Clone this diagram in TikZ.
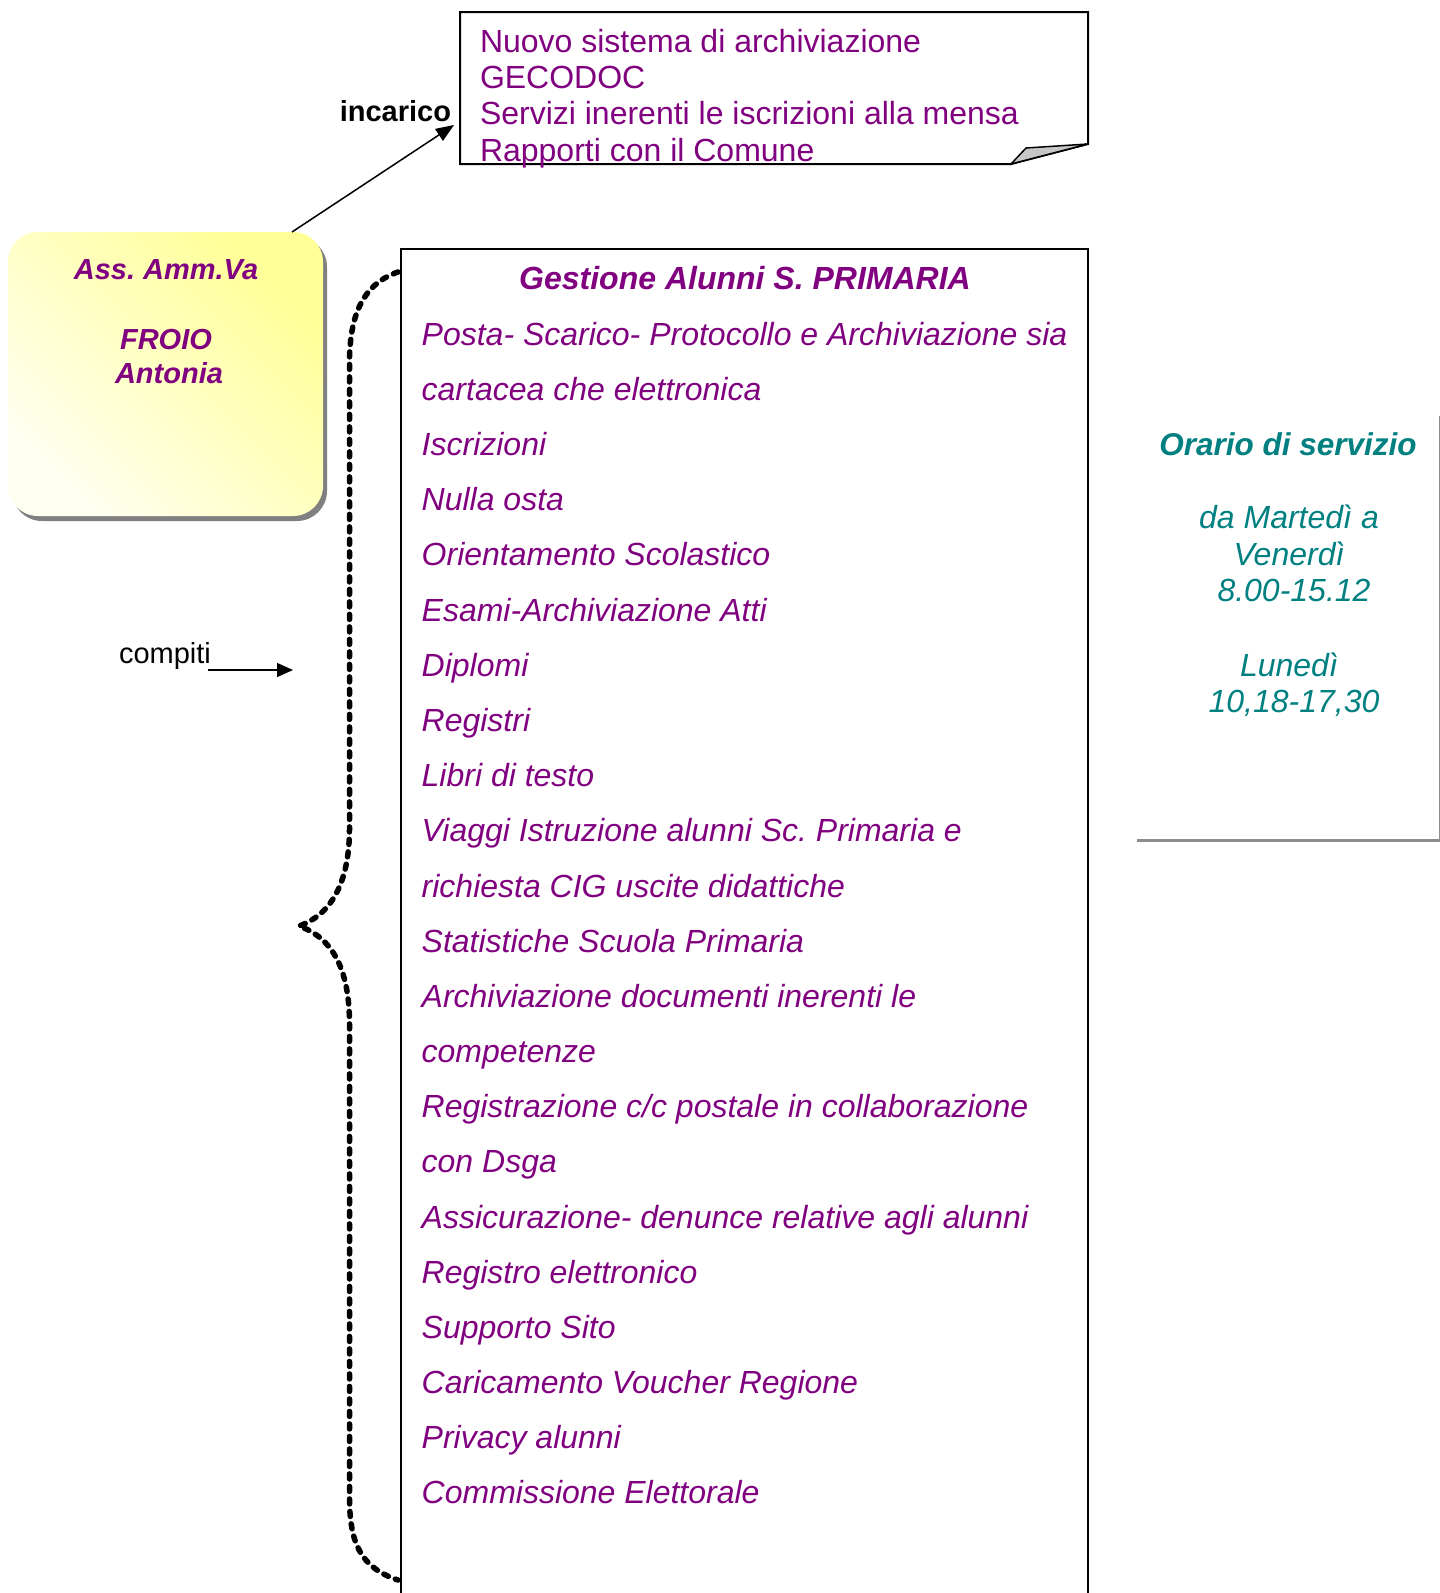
\documentclass[tikz,border=0pt]{standalone}
\usepackage{fontspec}
\setmainfont{Liberation Sans}
\usetikzlibrary{arrows.meta,calc}
\definecolor{purp}{HTML}{800080}
\definecolor{tealc}{HTML}{008080}
\definecolor{shadowgray}{HTML}{808080}
\definecolor{ylight}{RGB}{255,255,240}
\definecolor{ydark}{RGB}{255,255,150}
\frenchspacing
\begin{document}
\frenchspacing
\begin{tikzpicture}[x=1pt,y=-1pt,
  blank/.style={inner sep=0pt, outer sep=0pt},
  itemtxt/.style={blank, anchor=base west, text=purp, font=\fontsize{32}{36}\selectfont\itshape},
  notetxt/.style={blank, anchor=base west, text=purp, font=\fontsize{32}{36}\selectfont},
  asstxt/.style={blank, anchor=base, text=purp, font=\fontsize{29}{33}\selectfont\bfseries\itshape},
  orartxt/.style={blank, anchor=base, text=tealc, font=\fontsize{32}{36}\selectfont\itshape},
  lbltxt/.style={blank, text=black, font=\fontsize{29}{33}\selectfont},
  arr/.style={line width=1.5pt, -{Triangle[length=18pt,width=14pt]}},
  bracestyle/.style={line width=5.5pt, line cap=round, dash pattern=on 5pt off 7.5pt}
]
\useasboundingbox (0,0) rectangle (1440,1593);
\fill[white] (0,0) rectangle (1440,1593);

% ---- yellow box ----
\node[blank, minimum width=315pt, minimum height=284pt, anchor=north west] (ass) at (8,232) {};
\fill[shadowgray, rounded corners=30pt] ($(ass.north west)+(4,5)$) rectangle ($(ass.south east)+(4,5)$);
\shade[rounded corners=30pt, left color=ydark, right color=ylight, shading angle=-45]
  (ass.north west) rectangle (ass.south east);
\node[asstxt] (ass1) at (166,279) {Ass. Amm.Va};
\node[asstxt] (ass2) at (166,349) {FROIO};
\node[asstxt] (ass3) at (169,383) {Antonia};

% ---- note box ----
\node[blank, minimum width=628pt, minimum height=152pt, anchor=north west] (note) at (460,12) {};
\filldraw[fill=white, line width=2pt] (note.north west) -- (note.north east) -- ($(note.south east)+(0,-20)$)
  -- ($(note.south east)+(-77,0)$) -- (note.south west) -- cycle;
\filldraw[fill=gray!45, line width=1.5pt, line join=round] ($(note.south east)+(-77,0)$) -- ($(note.south east)+(0,-20)$)
  -- ($(note.south east)+(-62,-16)$) -- cycle;
\node[notetxt] (n1) at (480,52) {Nuovo sistema di archiviazione};
\node[notetxt] (n2) at (480,88) {GECODOC};
\node[notetxt] (n3) at (480,124.5) {Servizi inerenti le iscrizioni alla mensa};
\node[notetxt] (n4) at (480,161) {Rapporti con il Comune};

% ---- incarico ----
\node[lbltxt, anchor=base east, font=\fontsize{29}{33}\selectfont\bfseries] (inc) at (451,121) {incarico};
\coordinate (incstart) at ($(ass.north east)+(-31,0)$);
\coordinate (incend) at ($(note.west)+(-6,37)$);
\draw[arr] (incstart) -- (incend);

% ---- big task box ----
\node[blank, minimum width=687pt, minimum height=1400pt, anchor=north west] (tasks) at (401,249) {};
\draw[line width=1.5pt] (tasks.south west) -- (tasks.north west) -- (tasks.north east) -- (tasks.south east);
\node[blank, anchor=base, text=purp, font=\fontsize{32}{36}\selectfont\bfseries\itshape] (title) at (745,289) {Gestione Alunni S. PRIMARIA};
\foreach \t [count=\i from 0] in {%
  Posta- Scarico- Protocollo e Archiviazione sia,
  cartacea che elettronica,
  Iscrizioni,
  Nulla osta,
  Orientamento Scolastico,
  Esami-Archiviazione Atti,
  Diplomi,
  Registri,
  Libri di testo,
  Viaggi Istruzione alunni Sc. Primaria e,
  richiesta CIG uscite didattiche,
  Statistiche Scuola Primaria,
  Archiviazione documenti inerenti le,
  competenze,
  Registrazione c/c postale in collaborazione,
  con Dsga,
  Assicurazione- denunce relative agli alunni,
  Registro elettronico,
  Supporto Sito,
  Caricamento Voucher Regione,
  Privacy alunni,
  Commissione Elettorale}
  \node[itemtxt] (item\i) at (421.7,{345.3+55.17*\i}) {\t};

% ---- compiti ----
\node[lbltxt, anchor=base west] (comp) at (119,663) {compiti};
\coordinate (compend) at (293,670);
\draw[line width=1.3pt, -{Triangle[length=16pt,width=14pt]}] ($(comp.base east)+(-3,7)$) -- (compend);

% ---- brace ----
\coordinate (bt) at (398,272);
\coordinate (bm) at (299,926);
\coordinate (bb) at (398,1580);
\draw[bracestyle] (bt) .. controls (360,285) and (350,320) .. (349.5,360) -- (349.5,830)
  .. controls (349,885) and (330,915) .. (bm)
  .. controls (330,937) and (349,965) .. (349.5,1022) -- (349.5,1500)
  .. controls (350,1545) and (362,1568) .. (bb);

% ---- orario ----
\node[blank, minimum width=303pt, minimum height=424pt, anchor=north west] (orario) at (1137,416) {};
\draw[shadowgray!90, line width=3pt] (orario.north east) -- (orario.south east) -- (orario.south west);
\node[orartxt, font=\fontsize{31.5}{34}\selectfont\bfseries\itshape] (o1) at (1288,455) {Orario di servizio};
\node[orartxt] (o2) at (1289,528) {da Martedì a};
\node[orartxt] (o3) at (1289,565) {Venerdì};
\node[orartxt] (o4) at (1294,601) {8.00-15.12};
\node[orartxt] (o5) at (1289,676) {Lunedì};
\node[orartxt] (o6) at (1294,712) {10,18-17,30};
\end{tikzpicture}
\end{document}
